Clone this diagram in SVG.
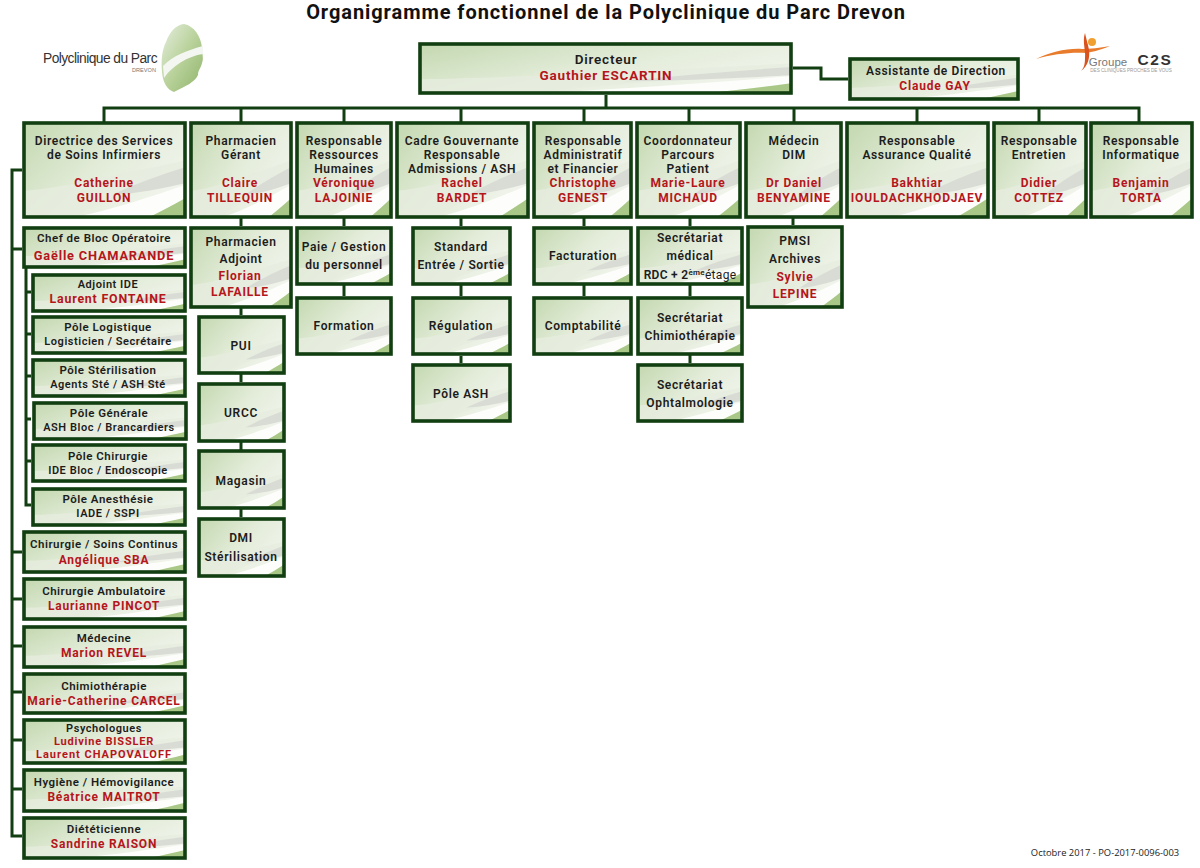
<svg xmlns="http://www.w3.org/2000/svg" width="1200" height="868" viewBox="0 0 1200 868">
<style>
text{font-family:Roboto,"Noto Sans","DejaVu Sans",sans-serif;text-anchor:middle;font-weight:600;font-size:12px;letter-spacing:.65px;fill:#1c1c1c}
.r{fill:#b5161c;font-weight:700;letter-spacing:.8px}
.s{font-size:11.5px;letter-spacing:.5px}
.x{font-size:11px;letter-spacing:.55px}
.b{fill:none;stroke:#123f12;stroke-width:3.6}
.c{fill:none;stroke:#123f12;stroke-width:3}
.t{font-size:20px;font-weight:700;fill:#111;letter-spacing:.93px}
.f{font-family:"Open Sans",sans-serif;font-size:9.4px;font-weight:400;letter-spacing:0}
.l{font-family:"Liberation Sans",sans-serif;font-weight:400;letter-spacing:0}
.d{font-size:13.5px;letter-spacing:.8px}
</style>
<defs>
<linearGradient id="g" x1="0" y1="0" x2="1" y2="0.6"><stop offset="0" stop-color="#c3d8b0"/><stop offset="0.55" stop-color="#e3ecd9"/><stop offset="1" stop-color="#f1f4ec"/></linearGradient>
<linearGradient id="lf" x1="0" y1="0" x2="1" y2="1"><stop offset="0" stop-color="#e6eee0"/><stop offset="0.5" stop-color="#b9d29b"/><stop offset="1" stop-color="#8fb46a"/></linearGradient>
<symbol id="bg" viewBox="0 0 100 100" preserveAspectRatio="none">
<rect width="100" height="100" fill="url(#g)"/>
<path d="M0 100V72C20 70 40 62 100 40V62C70 72 45 85 30 100Z" fill="#e6ecdf" opacity=".8"/>
<path d="M55 76C70 64 85 55 100 47V64C85 70 70 75 55 76Z" fill="#d9dcd5"/>
<path d="M32 100C55 92 80 78 100 66V82C92 88 85 94 78 100Z" fill="#fdfefb"/>
<path d="M78 100C85 94 92 88 100 80V100Z" fill="#a9c786"/>
</symbol>
</defs>
<rect width="1200" height="868" fill="#fff"/>
<text class="t" x="606" y="18.7">Organigramme fonctionnel de la Polyclinique du Parc Drevon</text>

<g id="logo-polyclinique">
<path d="M166 42C170 31 176 25 184 24C194 26 201 36 202 48C202 54 204 58 202 63C201 68 198 70 198 75C195 82 186 86 174 92C168 90 163 84 162 72C161 60 162 50 166 42Z" fill="url(#lf)"/>
<path d="M163 66C172 56 188 50 203 46V54C188 56 172 66 164 78Z" fill="#f4f6f1"/>
<text class="l" x="100" y="63" style="font-size:13.8px;letter-spacing:-.55px;fill:#333">Polyclinique du Parc</text>
<text class="l" x="144" y="72" style="font-size:5.6px;fill:#777">DREVON</text>
</g>
<g id="logo-c2s">
<path d="M1036 59C1050 52 1068 48 1082 49C1090 49 1100 48 1110 46C1100 50 1092 52 1086 53C1072 52 1052 54 1036 59Z" fill="#e87b2c"/>
<path d="M1085 33C1082 42 1086 50 1085 58C1085 64 1084 68 1081 71C1088 66 1090 58 1089 50C1088 44 1086 38 1085 33Z" fill="#d8531e"/>
<circle cx="1092" cy="42" r="4" fill="#f0a030"/>
<text class="l" x="1108" y="66" style="font-size:11.5px;fill:#777">Groupe</text>
<text class="l" x="1155" y="65" style="font-size:15.5px;font-weight:700;fill:#333;letter-spacing:1.6px">C2S</text>
<text class="l" x="1131" y="72" style="font-size:4.6px;fill:#999">DES CLINIQUES PROCHES DE VOUS</text>
</g>

<g id="connectors" class="c">
<path d="M606 95V108M104 122V108H1139V122M241 108V122M344 108V122M461 108V122M584 108V122M689 108V122M794 108V122M917 108V122M1039 108V122"/>
<path d="M793 68H821V79H848"/>
<path d="M22 170H12V836H22M12 249H22M12 552H22M12 599H22M12 646H22M12 692H22M12 740H22M12 789H22"/>
<path d="M26 268V505H31M26 292H31M26 334H31M26 376H31M26 419H31M26 461H31"/>
<path d="M241 218V226M241 308V315M241 374V382M241 442V450M241 509V517"/>
<path d="M344 218V226M344 285V296"/>
<path d="M461 218V226M461 285V296M461 356V363"/>
<path d="M584 218V226M584 285V296"/>
<path d="M690 218V226M690 285V296M690 355V363"/>
<path d="M793 218V225"/>
</g>

<g id="n-directeur"><use href="#bg" x="420" y="44" width="371" height="49"/><rect class="b" x="420" y="44" width="371" height="49"/><text class="d" x="606" y="64">Directeur</text><text class="r d" x="606" y="80">Gauthier ESCARTIN</text></g>
<g id="n-assistante"><use href="#bg" x="850" y="59" width="168" height="40"/><rect class="b" x="850" y="59" width="168" height="40"/><text x="936" y="75">Assistante de Direction</text><text class="r" x="935" y="90">Claude GAY</text></g>

<g id="n-directrice"><use href="#bg" x="24" y="123" width="161" height="94"/><rect class="b" x="24" y="123" width="161" height="94"/><text x="104" y="145">Directrice des Services</text><text x="104" y="159.1">de Soins Infirmiers</text><text class="r" x="104" y="187">Catherine</text><text class="r" x="104" y="202">GUILLON</text></g>
<g id="n-pharmacien"><use href="#bg" x="191" y="123" width="100" height="94"/><rect class="b" x="191" y="123" width="100" height="94"/><text x="241" y="145">Pharmacien</text><text x="241" y="159.1">Gérant</text><text class="r" x="240" y="187">Claire</text><text class="r" x="240" y="202">TILLEQUIN</text></g>
<g id="n-rh"><use href="#bg" x="297" y="123" width="94" height="94"/><rect class="b" x="297" y="123" width="94" height="94"/><text x="344" y="145">Responsable</text><text x="344" y="159.1">Ressources</text><text x="344" y="173.2">Humaines</text><text class="r" x="344" y="187.3">Véronique</text><text class="r" x="344" y="202">LAJOINIE</text></g>
<g id="n-cadre"><use href="#bg" x="397" y="123" width="131" height="94"/><rect class="b" x="397" y="123" width="131" height="94"/><text x="462" y="145">Cadre Gouvernante</text><text x="462" y="159.1">Responsable</text><text x="462" y="173.2">Admissions / ASH</text><text class="r" x="462" y="187.3">Rachel</text><text class="r" x="462" y="202">BARDET</text></g>
<g id="n-admin"><use href="#bg" x="534" y="123" width="97" height="94"/><rect class="b" x="534" y="123" width="97" height="94"/><text x="583" y="145">Responsable</text><text x="583" y="159.1">Administratif</text><text x="583" y="173.2">et Financier</text><text class="r" x="583" y="187.3">Christophe</text><text class="r" x="583" y="202">GENEST</text></g>
<g id="n-coord"><use href="#bg" x="637" y="123" width="103" height="94"/><rect class="b" x="637" y="123" width="103" height="94"/><text x="688" y="145">Coordonnateur</text><text x="688" y="159.1">Parcours</text><text x="688" y="173.2">Patient</text><text class="r" x="688" y="187.3">Marie-Laure</text><text class="r" x="688" y="202">MICHAUD</text></g>
<g id="n-dim"><use href="#bg" x="746" y="123" width="95" height="94"/><rect class="b" x="746" y="123" width="95" height="94"/><text x="794" y="145">Médecin</text><text x="794" y="159.1">DIM</text><text class="r" x="794" y="187">Dr Daniel</text><text class="r" x="794" y="202">BENYAMINE</text></g>
<g id="n-qualite"><use href="#bg" x="847" y="123" width="141" height="94"/><rect class="b" x="847" y="123" width="141" height="94"/><text x="917" y="145">Responsable</text><text x="917" y="159.1">Assurance Qualité</text><text class="r" x="917" y="187">Bakhtiar</text><text class="r" x="917" y="202">IOULDACHKHODJAEV</text></g>
<g id="n-entretien"><use href="#bg" x="994" y="123" width="92" height="94"/><rect class="b" x="994" y="123" width="92" height="94"/><text x="1039" y="145">Responsable</text><text x="1039" y="159.1">Entretien</text><text class="r" x="1039" y="187">Didier</text><text class="r" x="1039" y="202">COTTEZ</text></g>
<g id="n-info"><use href="#bg" x="1091" y="123" width="101" height="94"/><rect class="b" x="1091" y="123" width="101" height="94"/><text x="1141" y="145">Responsable</text><text x="1141" y="159.1">Informatique</text><text class="r" x="1141" y="187">Benjamin</text><text class="r" x="1141" y="202">TORTA</text></g>

<g id="n-chef"><use href="#bg" x="24" y="228" width="161" height="39"/><rect class="b" x="24" y="228" width="161" height="39"/><text class="s" x="104" y="242">Chef de Bloc Opératoire</text><text class="r" x="104" y="260" style="font-size:12.8px">Gaëlle CHAMARANDE</text></g>
<g id="n-adjoint"><use href="#bg" x="33" y="275" width="152" height="36"/><rect class="b" x="33" y="275" width="152" height="36"/><text class="x" x="108" y="288">Adjoint IDE</text><text class="r" x="108" y="303" style="font-size:12.4px">Laurent FONTAINE</text></g>
<g id="n-logistique"><use href="#bg" x="33" y="317" width="152" height="36"/><rect class="b" x="33" y="317" width="152" height="36"/><text class="s" x="108" y="331">Pôle Logistique</text><text class="x" x="108" y="344.5">Logisticien / Secrétaire</text></g>
<g id="n-sterilisation"><use href="#bg" x="33" y="360" width="152" height="36"/><rect class="b" x="33" y="360" width="152" height="36"/><text class="s" x="108" y="374">Pôle Stérilisation</text><text class="x" x="108" y="387.5">Agents Sté / ASH Sté</text></g>
<g id="n-generale"><use href="#bg" x="34" y="403" width="152" height="36"/><rect class="b" x="34" y="403" width="152" height="36"/><text class="s" x="109" y="417">Pôle Générale</text><text class="x" x="109" y="430.5">ASH Bloc / Brancardiers</text></g>
<g id="n-chirurgie"><use href="#bg" x="33" y="445" width="152" height="36"/><rect class="b" x="33" y="445" width="152" height="36"/><text class="s" x="108" y="460">Pôle Chirurgie</text><text class="x" x="108" y="473.5">IDE Bloc / Endoscopie</text></g>
<g id="n-anesthesie"><use href="#bg" x="33" y="489" width="152" height="36"/><rect class="b" x="33" y="489" width="152" height="36"/><text class="s" x="108" y="503">Pôle Anesthésie</text><text class="x" x="108" y="516.5">IADE / SSPI</text></g>

<g id="n-soins"><use href="#bg" x="24" y="532" width="161" height="40"/><rect class="b" x="24" y="532" width="161" height="40"/><text class="s" x="104" y="548">Chirurgie / Soins Continus</text><text class="r" x="104" y="563.5">Angélique SBA</text></g>
<g id="n-ambu"><use href="#bg" x="24" y="579" width="161" height="40"/><rect class="b" x="24" y="579" width="161" height="40"/><text class="s" x="104" y="595">Chirurgie Ambulatoire</text><text class="r" x="104" y="610">Laurianne PINCOT</text></g>
<g id="n-medecine"><use href="#bg" x="24" y="627" width="161" height="40"/><rect class="b" x="24" y="627" width="161" height="40"/><text class="s" x="104" y="642">Médecine</text><text class="r" x="104" y="657">Marion REVEL</text></g>
<g id="n-chimio"><use href="#bg" x="24" y="674" width="161" height="39"/><rect class="b" x="24" y="674" width="161" height="39"/><text class="s" x="104" y="689.5">Chimiothérapie</text><text class="r" x="104" y="704.5">Marie-Catherine CARCEL</text></g>
<g id="n-psycho"><use href="#bg" x="24" y="720" width="161" height="43"/><rect class="b" x="24" y="720" width="161" height="43"/><text class="x" x="104" y="732">Psychologues</text><text class="r" x="104" y="745" style="font-size:11px">Ludivine BISSLER</text><text class="r" x="104" y="758" style="font-size:11px;letter-spacing:1px">Laurent CHAPOVALOFF</text></g>
<g id="n-hygiene"><use href="#bg" x="24" y="770" width="161" height="41"/><rect class="b" x="24" y="770" width="161" height="41"/><text class="s" x="104" y="786">Hygiène / Hémovigilance</text><text class="r" x="104" y="801">Béatrice MAITROT</text></g>
<g id="n-diet"><use href="#bg" x="24" y="818" width="161" height="40"/><rect class="b" x="24" y="818" width="161" height="40"/><text class="s" x="104" y="833">Diététicienne</text><text class="r" x="104" y="847.5">Sandrine RAISON</text></g>

<g id="n-pharm-adj"><use href="#bg" x="191" y="228" width="100" height="79"/><rect class="b" x="191" y="228" width="100" height="79"/><text x="241" y="246">Pharmacien</text><text x="241" y="263">Adjoint</text><text class="r" x="240" y="280">Florian</text><text class="r" x="240" y="296">LAFAILLE</text></g>
<g id="n-pui"><use href="#bg" x="199" y="317" width="85" height="56"/><rect class="b" x="199" y="317" width="85" height="56"/><text x="241" y="350">PUI</text></g>
<g id="n-urcc"><use href="#bg" x="199" y="384" width="85" height="57"/><rect class="b" x="199" y="384" width="85" height="57"/><text x="241" y="417">URCC</text></g>
<g id="n-magasin"><use href="#bg" x="199" y="451" width="85" height="57"/><rect class="b" x="199" y="451" width="85" height="57"/><text x="241" y="485">Magasin</text></g>
<g id="n-dmi"><use href="#bg" x="199" y="519" width="85" height="57"/><rect class="b" x="199" y="519" width="85" height="57"/><text x="241" y="542">DMI</text><text x="241" y="561">Stérilisation</text></g>

<g id="n-paie"><use href="#bg" x="297" y="228" width="94" height="56"/><rect class="b" x="297" y="228" width="94" height="56"/><text x="344" y="251">Paie / Gestion</text><text x="344" y="269">du personnel</text></g>
<g id="n-formation"><use href="#bg" x="297" y="298" width="94" height="56"/><rect class="b" x="297" y="298" width="94" height="56"/><text x="344" y="330">Formation</text></g>
<g id="n-standard"><use href="#bg" x="413" y="228" width="97" height="56"/><rect class="b" x="413" y="228" width="97" height="56"/><text x="461" y="251">Standard</text><text x="461" y="269">Entrée / Sortie</text></g>
<g id="n-regulation"><use href="#bg" x="413" y="298" width="97" height="56"/><rect class="b" x="413" y="298" width="97" height="56"/><text x="461" y="330">Régulation</text></g>
<g id="n-ash"><use href="#bg" x="413" y="365" width="97" height="56"/><rect class="b" x="413" y="365" width="97" height="56"/><text x="461" y="398">Pôle ASH</text></g>
<g id="n-facturation"><use href="#bg" x="534" y="228" width="97" height="56"/><rect class="b" x="534" y="228" width="97" height="56"/><text x="583" y="260">Facturation</text></g>
<g id="n-compta"><use href="#bg" x="534" y="298" width="97" height="56"/><rect class="b" x="534" y="298" width="97" height="56"/><text x="583" y="330">Comptabilité</text></g>
<g id="n-sec-med"><use href="#bg" x="638" y="228" width="104" height="56"/><rect class="b" x="638" y="228" width="104" height="56"/><text x="690" y="242">Secrétariat</text><text x="690" y="260">médical</text><text x="690" y="279" style="letter-spacing:.3px">RDC + 2<tspan font-size="8" dy="-4">ème</tspan><tspan dy="4" font-weight="400">étage</tspan></text></g>
<g id="n-sec-chimio"><use href="#bg" x="638" y="298" width="104" height="56"/><rect class="b" x="638" y="298" width="104" height="56"/><text x="690" y="322">Secrétariat</text><text x="690" y="340">Chimiothérapie</text></g>
<g id="n-sec-ophtalmo"><use href="#bg" x="638" y="365" width="104" height="56"/><rect class="b" x="638" y="365" width="104" height="56"/><text x="690" y="389">Secrétariat</text><text x="690" y="407">Ophtalmologie</text></g>
<g id="n-pmsi"><use href="#bg" x="748" y="227" width="94" height="80"/><rect class="b" x="748" y="227" width="94" height="80"/><text x="795" y="245">PMSI</text><text x="795" y="263">Archives</text><text class="r" x="795" y="281">Sylvie</text><text class="r" x="795" y="298">LEPINE</text></g>
<text class="f" x="1105" y="856">Octobre 2017 - PO-2017-0096-003</text>
</svg>
